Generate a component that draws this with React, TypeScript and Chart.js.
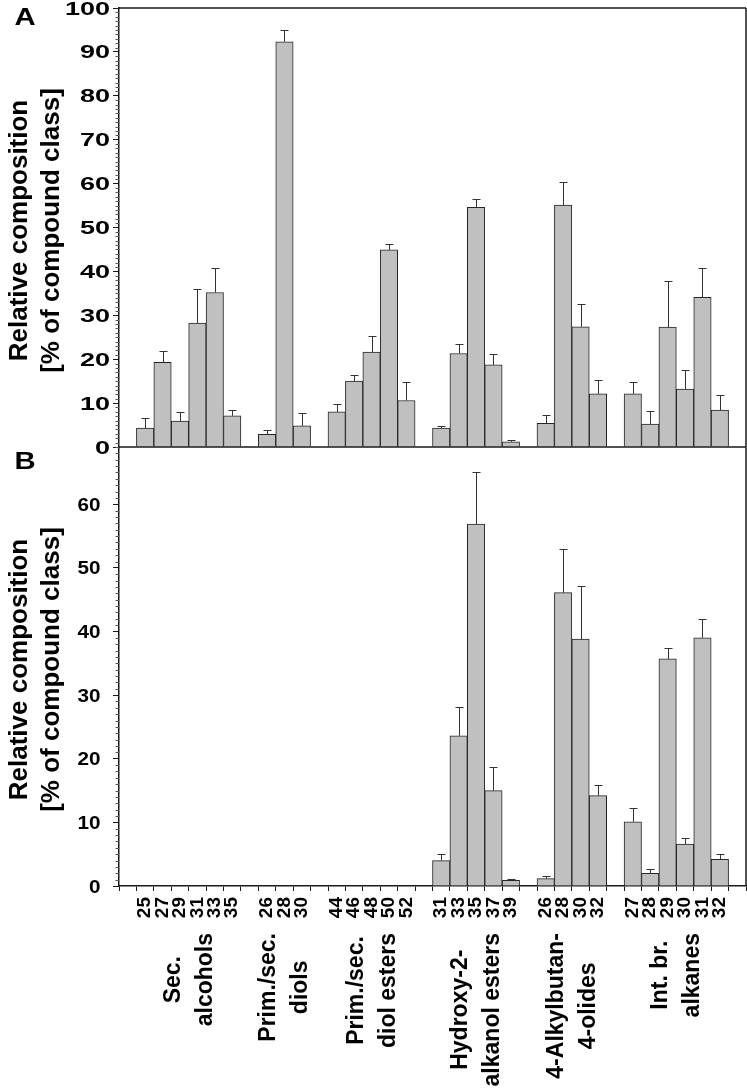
import React, { useEffect, useRef } from 'react';
import { Chart, registerables } from 'chart.js';

Chart.register(...registerables);

const FONT = '"Liberation Sans", Arial, Helvetica, sans-serif';

// Compound classes (group labels, two lines each)
const groupLabels: string[][] = [
  ['Sec.', 'alcohols'],
  ['Prim./sec.', 'diols'],
  ['Prim./sec.', 'diol esters'],
  ['Hydroxy-2-', 'alkanol esters'],
  ['4-Alkylbutan-', '4-olides'],
  ['Int. br.', 'alkanes'],
];

// Chain lengths (category tick labels) per class
const chainLengths: string[][] = [
  ['25', '27', '29', '31', '33', '35'],
  ['26', '28', '30'],
  ['44', '46', '48', '50', '52'],
  ['31', '33', '35', '37', '39'],
  ['26', '28', '30', '32'],
  ['27', '28', '29', '30', '31', '32'],
];

// Panel A: relative composition (%) and error
const valuesA: number[][] = [
  [4.3, 19.3, 5.9, 28.2, 35.2, 7.1],
  [2.9, 92.3, 4.8],
  [8.0, 15.0, 21.6, 44.9, 10.6],
  [4.3, 21.3, 54.6, 18.7, 1.2],
  [5.4, 55.1, 27.4, 12.1],
  [12.1, 5.2, 27.3, 13.2, 34.1, 8.4],
];
const errorsA: number[][] = [
  [2.4, 2.6, 2.0, 7.8, 5.5, 1.4],
  [1.0, 2.8, 3.0],
  [1.8, 1.5, 3.6, 1.3, 4.1],
  [0.4, 2.2, 1.8, 2.4, 0.5],
  [2.0, 5.2, 5.1, 3.2],
  [2.8, 3.1, 10.4, 4.3, 6.6, 3.4],
];

// Panel B: relative composition (%) and error (first three classes absent)
const valuesB: (number | null)[][] = [
  [null, null, null, null, null, null],
  [null, null, null],
  [null, null, null, null, null],
  [4.0, 23.6, 56.9, 15.0, 0.9],
  [1.15, 46.1, 38.8, 14.2],
  [10.1, 2.0, 35.7, 6.6, 39.0, 4.2],
];
const errorsB: (number | null)[][] = [
  [null, null, null, null, null, null],
  [null, null, null],
  [null, null, null, null, null],
  [1.0, 4.6, 8.1, 3.7, 0.15],
  [0.35, 6.9, 8.3, 1.7],
  [2.1, 0.7, 1.7, 0.9, 3.0, 0.8],
];

const yTicksA = { min: 0, max: 100, step: 10 };
const yTicksB = { min: 0, max: 69, step: 10 };
const yTitle = ['Relative composition', '[% of compound class]'];
const panelLetters = ['A', 'B'];

// Build flat arrays with one empty slot before, between and after groups
const labels: string[] = [''];
const seriesA: (number | null)[] = [null];
const seriesB: (number | null)[] = [null];
const errA: (number | null)[] = [null];
const errB: (number | null)[] = [null];
const groupSpans: { start: number; end: number }[] = [];
chainLengths.forEach((cats, g) => {
  const start = labels.length;
  cats.forEach((c, i) => {
    labels.push(c);
    seriesA.push(valuesA[g][i]);
    seriesB.push(valuesB[g][i]);
    errA.push(errorsA[g][i]);
    errB.push(errorsB[g][i]);
  });
  groupSpans.push({ start, end: labels.length - 1 });
  labels.push('');
  seriesA.push(null);
  seriesB.push(null);
  errA.push(null);
  errB.push(null);
});

const AXIS = '#1a1a1a';

function stretchedText(
  ctx: CanvasRenderingContext2D,
  text: string,
  x: number,
  y: number,
  sx: number,
  align: CanvasTextAlign
) {
  ctx.save();
  ctx.translate(x, y);
  ctx.scale(sx, 1);
  ctx.textAlign = align;
  ctx.textBaseline = 'alphabetic';
  ctx.fillText(text, 0, 0);
  ctx.restore();
}

const decorPlugin = {
  id: 'decor',
  afterDatasetsDraw(chart: any) {
    const ctx = chart.ctx as CanvasRenderingContext2D;
    const sets: [number, any, (number | null)[]][] = [
      [0, chart.scales.yA, errA],
      [1, chart.scales.yB, errB],
    ];
    ctx.save();
    ctx.strokeStyle = '#333';
    ctx.lineWidth = 1;
    for (const [di, scale, errs] of sets) {
      const meta = chart.getDatasetMeta(di);
      const data = chart.data.datasets[di].data;
      meta.data.forEach((el: any, j: number) => {
        const v = data[j];
        const e = errs[j];
        if (v == null || e == null || e <= 0) return;
        const x = Math.round(el.x) + 0.5;
        const y0 = scale.getPixelForValue(v);
        const y1 = Math.round(scale.getPixelForValue(v + e)) + 0.5;
        ctx.beginPath();
        ctx.moveTo(x, y0);
        ctx.lineTo(x, y1);
        ctx.moveTo(x - 4, y1);
        ctx.lineTo(x + 4, y1);
        ctx.stroke();
      });
    }
    ctx.restore();
  },
  afterDraw(chart: any) {
    const ctx = chart.ctx as CanvasRenderingContext2D;
    const area = chart.chartArea;
    const xs = chart.scales.x;
    const yA = chart.scales.yA;
    const yB = chart.scales.yB;
    ctx.save();
    // frame lines
    ctx.strokeStyle = AXIS;
    ctx.lineWidth = 1.5;
    ctx.beginPath();
    ctx.moveTo(area.left, area.top);
    ctx.lineTo(area.right, area.top);
    ctx.moveTo(area.right, area.top);
    ctx.lineTo(area.right, area.bottom);
    ctx.moveTo(area.left, yA.bottom);
    ctx.lineTo(area.right, yA.bottom);
    ctx.stroke();

    // minor ticks
    ctx.strokeStyle = '#555';
    ctx.lineWidth = 1;
    for (const s of [yA, yB]) {
      for (let v = Math.ceil(s.min); v <= Math.floor(s.max); v++) {
        if (v % 10 === 0) continue;
        const y = Math.round(s.getPixelForValue(v)) + 0.5;
        ctx.beginPath();
        ctx.moveTo(s.right - 3.5, y);
        ctx.lineTo(s.right, y);
        ctx.stroke();
      }
    }

    ctx.fillStyle = '#000';
    // y tick labels (wide bold digits)
    ctx.font = `bold 18px ${FONT}`;
    const tickLabelCfg: [any, number, number][] = [
      [yA, 110, 1.5],
      [yB, 100.5, 1.15],
    ];
    for (const [s, right, sx] of tickLabelCfg) {
      for (const t of s.ticks) {
        const y = s.getPixelForValue(t.value);
        stretchedText(ctx, String(t.value), right, y + 6.5, sx, 'right');
      }
    }

    // y titles
    [yA, yB].forEach((s: any, k: number) => {
      const cy = (s.top + s.bottom) / 2 + 3;
      ctx.save();
      ctx.translate(0, cy);
      ctx.rotate(-Math.PI / 2);
      ctx.font = `bold 26px ${FONT}`;
      ctx.textAlign = 'center';
      ctx.textBaseline = 'alphabetic';
      ctx.fillText(yTitle[0], 0, 27);
      ctx.fillText(yTitle[1], 0, 59);
      ctx.restore();
      // panel letter
      ctx.font = `bold 24px ${FONT}`;
      stretchedText(ctx, panelLetters[k], 14.5, s.top + (k === 0 ? 17 : 22), 1.22, 'left');
    });

    // group labels
    ctx.font = `bold 23px ${FONT}`;
    groupSpans.forEach((span, g) => {
      const lines = groupLabels[g];
      const cx = (xs.getPixelForValue(span.start) + xs.getPixelForValue(span.end)) / 2;
      const maxW = Math.max(...lines.map((l) => ctx.measureText(l).width));
      const cy = area.bottom + 47 + maxW / 2;
      ctx.save();
      ctx.translate(cx, cy);
      ctx.rotate(-Math.PI / 2);
      ctx.textAlign = 'center';
      ctx.textBaseline = 'alphabetic';
      lines.forEach((l, i) => {
        const off = (i - (lines.length - 1) / 2) * 32;
        ctx.fillText(l, 0, off + 7);
      });
      ctx.restore();
    });
    ctx.restore();
  },
};

export default function App() {
  const ref = useRef<HTMLCanvasElement | null>(null);
  useEffect(() => {
    if (!ref.current) return;
    Chart.defaults.font.family = FONT;
    const barStyle = {
      grouped: false,
      backgroundColor: '#c0c0c0',
      borderColor: '#262626',
      borderWidth: 1,
      barPercentage: 1,
      categoryPercentage: 1,
    };
    const chart = new Chart(ref.current, {
      type: 'bar',
      data: {
        labels,
        datasets: [
          { data: seriesA, yAxisID: 'yA', ...barStyle } as any,
          { data: seriesB, yAxisID: 'yB', ...barStyle } as any,
        ],
      },
      options: {
        animation: false,
        responsive: false,
        devicePixelRatio: 1,
        layout: { padding: { left: 0, top: 8, right: 1, bottom: 0 } },
        plugins: { legend: { display: false }, tooltip: { enabled: false } },
        scales: {
          x: {
            type: 'category',
            position: 'bottom',
            offset: true,
            grid: {
              offset: true,
              drawOnChartArea: false,
              drawTicks: true,
              tickLength: 5,
              color: AXIS,
            },
            border: { display: true, color: AXIS, width: 1.5 },
            ticks: {
              autoSkip: false,
              minRotation: 90,
              maxRotation: 90,
              padding: 6,
              color: '#000',
              font: { size: 19, weight: 'bold', family: FONT },
            },
            afterFit: (s: any) => {
              s.height = 205;
              s.paddingLeft = 0;
              s.paddingRight = 0;
            },
          },
          yB: {
            type: 'linear',
            position: 'left',
            stack: 'panels',
            stackWeight: 1,
            min: yTicksB.min,
            max: yTicksB.max,
            ticks: { stepSize: yTicksB.step, display: false },
            afterBuildTicks: (s: any) => {
              s.ticks = s.ticks.filter((t: any) => t.value % yTicksB.step === 0);
            },
            grid: { drawOnChartArea: false, drawTicks: true, tickLength: 6, color: AXIS },
            border: { display: true, color: AXIS, width: 1.5 },
            afterFit: (s: any) => {
              s.width = 119;
              s.paddingTop = 0;
              s.paddingBottom = 0;
            },
          },
          yA: {
            type: 'linear',
            position: 'left',
            stack: 'panels',
            stackWeight: 1,
            min: yTicksA.min,
            max: yTicksA.max,
            ticks: { stepSize: yTicksA.step, display: false },
            grid: { drawOnChartArea: false, drawTicks: true, tickLength: 6, color: AXIS },
            border: { display: true, color: AXIS, width: 1.5 },
            afterFit: (s: any) => {
              s.width = 119;
              s.paddingTop = 0;
              s.paddingBottom = 0;
            },
          },
        } as any,
      },
      plugins: [decorPlugin],
    });
    return () => chart.destroy();
  }, []);
  return (
    <div style={{ position: 'fixed', left: 0, top: 0, width: 747, height: 1091, background: '#fff' }}>
      <canvas ref={ref} width={747} height={1091} style={{ display: 'block' }} />
    </div>
  );
}
